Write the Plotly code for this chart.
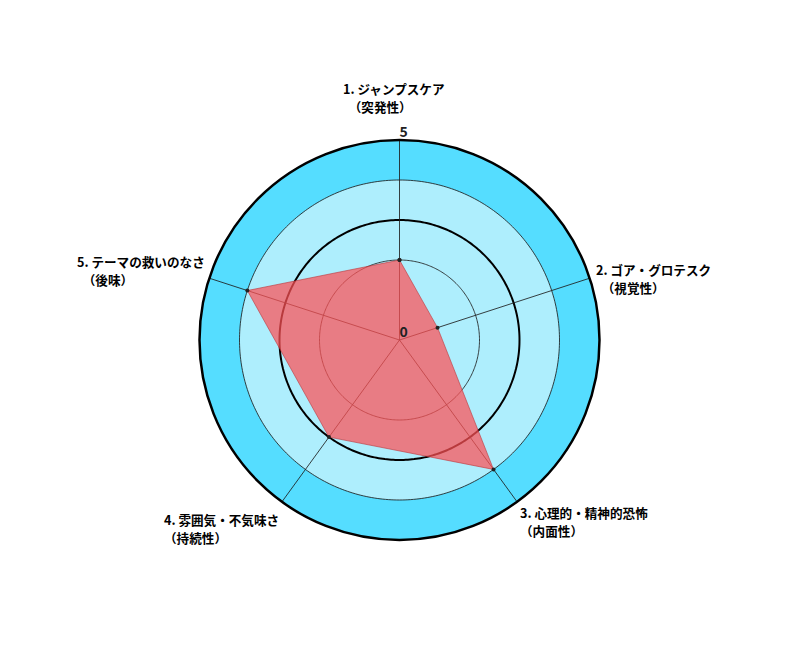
import numpy as np
import plotly.graph_objects as go

# ---- data ----
categories = ["1. ジャンプスケア", "2. ゴア・グロテスク", "3. 心理的・精神的恐怖",
              "4. 雰囲気・不気味さ", "5. テーマの救いのなさ"]
subtitles = ["（突発性）", "（視覚性）", "（内面性）", "（持続性）", "（後味）"]
scores = [2, 1, 4, 3, 4]
tick_vals = [0, 5]
tick_text = ["0", "5"]
thin_rings = [2, 4]
thick_rings = [3]
r_max = 5
inner_band = 4

# ---- styling / layout helpers ----
FONT = "Noto Sans CJK JP"
OFF = 8  # page body margin compensation
L, R, T, B = 80 - OFF, 80 + OFF, 140 - OFF, 120 + OFF
W, H = 799, 660
label_pos = [(341, 77), (594, 258), (518, 501), (162, 508), (75, 250)]  # target pixel top-left of label boxes
indent = [2, 2, 0, 0, 2]
LINE_GAP = 18

n = len(categories)
angles = [i * 360 / n for i in range(n)]
circ = np.linspace(0, 360, 361)

fig = go.Figure()

# background bands
fig.add_trace(go.Scatterpolar(r=[r_max] * len(circ), theta=circ, mode="lines", fill="toself",
                              fillcolor="#55DDFF", line=dict(width=0), hoverinfo="skip", showlegend=False))
fig.add_trace(go.Scatterpolar(r=[inner_band] * len(circ), theta=circ, mode="lines", fill="toself",
                              fillcolor="#AEEEFD", line=dict(width=0), hoverinfo="skip", showlegend=False))
# grid rings
for rv in thin_rings:
    fig.add_trace(go.Scatterpolar(r=[rv] * len(circ), theta=circ, mode="lines",
                                  line=dict(color="rgba(30,30,30,0.85)", width=1), hoverinfo="skip", showlegend=False))
for rv in thick_rings:
    fig.add_trace(go.Scatterpolar(r=[rv] * len(circ), theta=circ, mode="lines",
                                  line=dict(color="black", width=2), hoverinfo="skip", showlegend=False))
# spokes
for a in angles:
    fig.add_trace(go.Scatterpolar(r=[0, r_max], theta=[a, a], mode="lines",
                                  line=dict(color="rgba(30,30,30,0.85)", width=1), hoverinfo="skip", showlegend=False))

# data polygon
fig.add_trace(go.Scatterpolar(r=scores + [scores[0]], theta=angles + [angles[0]], mode="lines+markers",
                              fill="toself", fillcolor="rgba(255,80,85,0.72)",
                              line=dict(color="rgba(190,50,55,0.6)", width=1),
                              marker=dict(size=4, color="#222"), showlegend=False))

# radial tick labels
fig.add_trace(go.Scatterpolar(r=tick_vals, theta=[0] * len(tick_vals), mode="text", text=tick_text,
                              textposition="top right",
                              textfont=dict(family=FONT, size=14, color="#222", weight="bold"),
                              hoverinfo="skip", showlegend=False))

pw, ph = W - L - R, H - T - B


def ann(text, px, py):
    return dict(text=text, xref="paper", yref="paper",
                x=(px - OFF - L) / pw, y=(H - B - (py - OFF)) / ph, xanchor="left", yanchor="top",
                align="left", showarrow=False,
                font=dict(family=FONT, size=12.6, color="black", weight="bold"))


annotations = []
for cat, sub, (px, py), ind in zip(categories, subtitles, label_pos, indent):
    annotations.append(ann(cat, px, py))
    annotations.append(ann(chr(160) * ind + sub, px, py + LINE_GAP))

fig.update_layout(
    width=W, height=H, margin=dict(l=L, r=R, t=T, b=B),
    paper_bgcolor="white", plot_bgcolor="white",
    polar=dict(
        bgcolor="rgba(0,0,0,0)",
        radialaxis=dict(range=[0, r_max], visible=False),
        angularaxis=dict(rotation=90, direction="clockwise", showticklabels=False, ticks="",
                         showgrid=False, showline=True, linecolor="black", linewidth=2.5),
    ),
    annotations=annotations,
    showlegend=False,
)
fig.write_html("out.html")
